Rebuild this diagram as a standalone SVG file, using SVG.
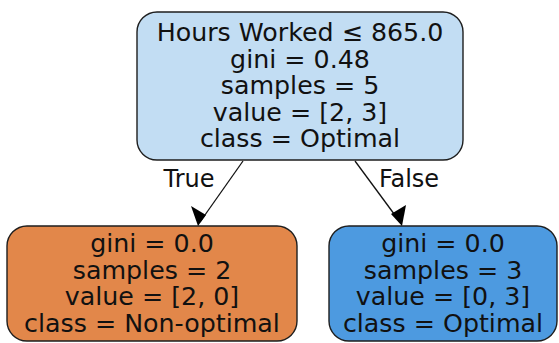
<svg xmlns="http://www.w3.org/2000/svg" width="559" height="343" viewBox="0 0 559 343">
  <defs>
    <style>
      .node rect { stroke: #1e1e1e; stroke-width: 1.4; }
      .node text { font-family: "DejaVu Sans", sans-serif; font-size: 25.3px; fill: #111; text-anchor: middle; }
      .edge line { stroke: #111; stroke-width: 1.3; }
      .edge path { fill: #000; }
      .edge-label { font-family: "DejaVu Sans", sans-serif; font-size: 24px; fill: #111; text-anchor: middle; }
    </style>
  </defs>
  <rect width="559" height="343" fill="#fff"/>

  <!-- root split -->
  <g id="node0" class="node">
    <rect x="137" y="12" width="326" height="148" rx="20" ry="20" fill="#c2ddf3"/>
    <text x="300" y="41">Hours Worked ≤ 865.0<tspan x="300" y="67.5">gini = 0.48</tspan><tspan x="300" y="94">samples = 5</tspan><tspan x="300" y="120.5">value = [2, 3]</tspan><tspan x="300" y="147">class = Optimal</tspan></text>
  </g>

  <!-- left leaf -->
  <g id="node1" class="node">
    <rect x="7" y="226" width="290" height="115" rx="20" ry="20" fill="#e2874a"/>
    <text x="152" y="252">gini = 0.0<tspan x="152" y="278.5">samples = 2</tspan><tspan x="152" y="305">value = [2, 0]</tspan><tspan x="152" y="331.5">class = Non-optimal</tspan></text>
  </g>

  <!-- right leaf -->
  <g id="node2" class="node">
    <rect x="329" y="226" width="228" height="115" rx="20" ry="20" fill="#4d9ae0"/>
    <text x="443" y="252">gini = 0.0<tspan x="443" y="278.5">samples = 3</tspan><tspan x="443" y="305">value = [0, 3]</tspan><tspan x="443" y="331.5">class = Optimal</tspan></text>
  </g>

  <!-- connectors, drawn above the leaf borders -->
  <g id="edges" class="edge">
    <line x1="243" y1="161" x2="200" y2="222"/>
    <path d="M198,226 L191,206 L206,215 z"/>
    <text class="edge-label" x="189" y="187">True</text>
    <line x1="355" y1="161" x2="400" y2="222"/>
    <path d="M402,226 L391,214 L406,205 z"/>
    <text class="edge-label" x="409" y="187">False</text>
  </g>
</svg>
